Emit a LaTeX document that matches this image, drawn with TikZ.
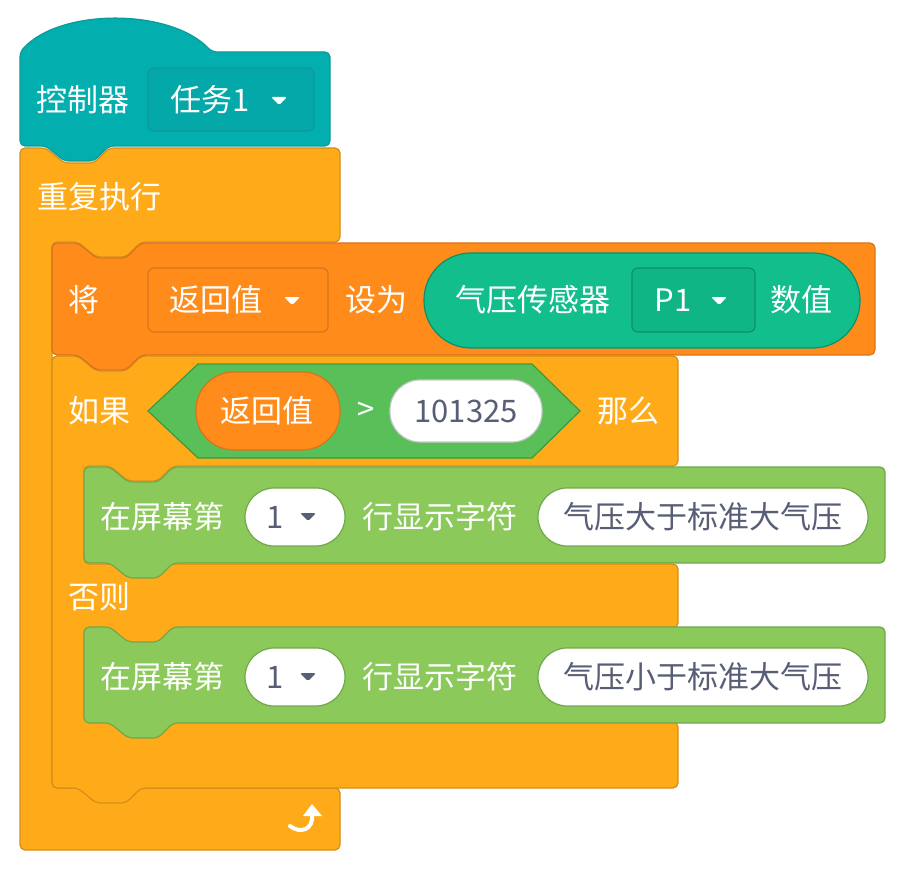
\documentclass[tikz,border=0pt]{standalone}
\usepackage{fontspec}
\newfontfamily\cjk{Noto Sans CJK SC}
\definecolor{teal1}{HTML}{03AEAE}
\definecolor{teal2}{HTML}{0C9A9A}
\definecolor{teal3}{HTML}{04A8A8}
\definecolor{orA}{HTML}{FFAB19}
\definecolor{orAb}{HTML}{D38E19}
\definecolor{orB}{HTML}{FF8C1A}
\definecolor{orBb}{HTML}{D9731C}
\definecolor{sens}{HTML}{12BE8C}
\definecolor{sensb}{HTML}{0D8F6B}
\definecolor{sens2}{HTML}{10B585}
\definecolor{hexg}{HTML}{59C059}
\definecolor{hexgb}{HTML}{3E993E}
\definecolor{grn}{HTML}{8CC95B}
\definecolor{grnb}{HTML}{70A849}
\definecolor{gtxt}{HTML}{575E75}
\definecolor{pillb}{HTML}{C8C8C8}
\newcommand{\ntop}[2]{-- ({#1+26},#2) -- ({#1+44},{#2+15}) -- ({#1+74},{#2+15}) -- ({#1+89},#2)}
\newcommand{\nbot}[2]{-- ({#1+89},#2) -- ({#1+74},{#2+15}) -- ({#1+44},{#2+15}) -- ({#1+26},#2)}
\newcommand{\ddtri}[3]{\fill[#3,rounded corners=1.5] (#1,#2) -- ++(16,0) -- ++(-8,8) -- cycle;}
\begin{document}
\begin{tikzpicture}[x=1pt,y=-1pt,line width=1.2pt,
  lbl/.style={text=white,font=\cjk\fontsize{31}{32}\selectfont,anchor=west,inner sep=0pt},
  glbl/.style={text=gtxt,font=\cjk\fontsize{31}{32}\selectfont,inner sep=0pt}]
\useasboundingbox (0,0) rectangle (906,872);
% forever
\draw[fill=orA,draw=orAb,rounded corners=5] (20,148) \ntop{20}{148} -- (340,148) -- (340,242) \nbot{52}{242} -- (52,242) -- (52,788) -- (340,788) -- (340,850) -- (20,850) -- cycle;
\node[lbl] (rep) at (37,197) {重复执行};
\draw[white,line width=4pt,line cap=round] (290,826) .. controls (300,834) and (314,830) .. (312,814);
\fill[white] (303,816) -- (312,804) -- (322,816) -- cycle;
% hat
\draw[fill=teal1,draw=teal2,rounded corners=5] (20,52) .. controls (60,8) and (170,8) .. (212,52) -- (330,52) -- (330,146) \nbot{20}{146} -- (20,146) -- cycle;
\node[lbl] (ctl) at (36,100) {控制器};
\draw[fill=teal3,draw=teal2,rounded corners=6] (148,68) rectangle (314,131);
\node[lbl] (task) at (170,100) {任务1};
\ddtri{271}{97}{white}
% if-else
\draw[fill=orA,draw=orAb,rounded corners=5] (52,356) \ntop{52}{356} -- (678,356) -- (678,466) \nbot{84}{466} -- (84,466) -- (84,564) -- (678,564) -- (678,628) \nbot{84}{628} -- (84,628) -- (84,722) -- (678,722) -- (678,788) \nbot{52}{788} -- (52,788) -- cycle;
\node[lbl] (ru) at (68,411) {如果};
\node[lbl] (nm) at (597,411) {那么};
\node[lbl] (fz) at (68,597) {否则};
\draw[fill=hexg,draw=hexgb] (148,411) -- (198,364) -- (532,364) -- (580,411) -- (532,458) -- (198,458) -- cycle;
\draw[fill=orB,draw=orBb,rounded corners=38] (196,372) rectangle (340,450);
\node[lbl] (rv2) at (220,411) {返回值};
\node[lbl] (gt) at (357,411) {>};
\draw[fill=white,draw=pillb,rounded corners=30] (390,380) rectangle (542,442);
\node[glbl] (num) at (466,411) {101325};
% set block
\draw[fill=orB,draw=orBb,rounded corners=5] (52,243) \ntop{52}{243} -- (875,243) -- (875,355) \nbot{52}{355} -- (52,355) -- cycle;
\node[lbl] (jiang) at (68,300) {将};
\draw[fill=orB,draw=orBb,rounded corners=6] (148,268) rectangle (328,332);
\node[lbl] (rv) at (169,300) {返回值};
\ddtri{284}{297}{white}
\node[lbl] (sw) at (345,300) {设为};
\draw[fill=sens,draw=sensb,rounded corners=47] (424,253) rectangle (860,348);
\node[lbl] (qy) at (455,300) {气压传感器};
\draw[fill=sens2,draw=sensb,rounded corners=6] (632,268) rectangle (755,332);
\node[lbl] (p1) at (654,300) {P1};
\ddtri{711}{297}{white}
\node[lbl] (sz) at (770,300) {数值};
% green blocks
\foreach \t/\s/\n in {467/大/g1,627/小/g2}{
  \draw[fill=grn,draw=grnb,rounded corners=5] (84,\t) \ntop{84}{\t} -- (885,\t) -- (885,\t+96) \nbot{84}{\t+96} -- (84,\t+96) -- cycle;
  \node[lbl] (\n a) at (100,\t+50) {在屏幕第};
  \draw[fill=white,draw=grnb,rounded corners=29] (245,\t+21) rectangle (345,\t+79);
  \node[glbl] (\n b) at (275,\t+50) {1};
  \ddtri{300}{\t+46}{gtxt}
  \node[lbl] (\n c) at (362,\t+50) {行显示字符};
  \draw[fill=white,draw=grnb,rounded corners=29] (538,\t+21) rectangle (868,\t+79);
  \node[glbl] (\n d) at (703,\t+50) {气压\s 于标准大气压};
}
\end{tikzpicture}
\end{document}
